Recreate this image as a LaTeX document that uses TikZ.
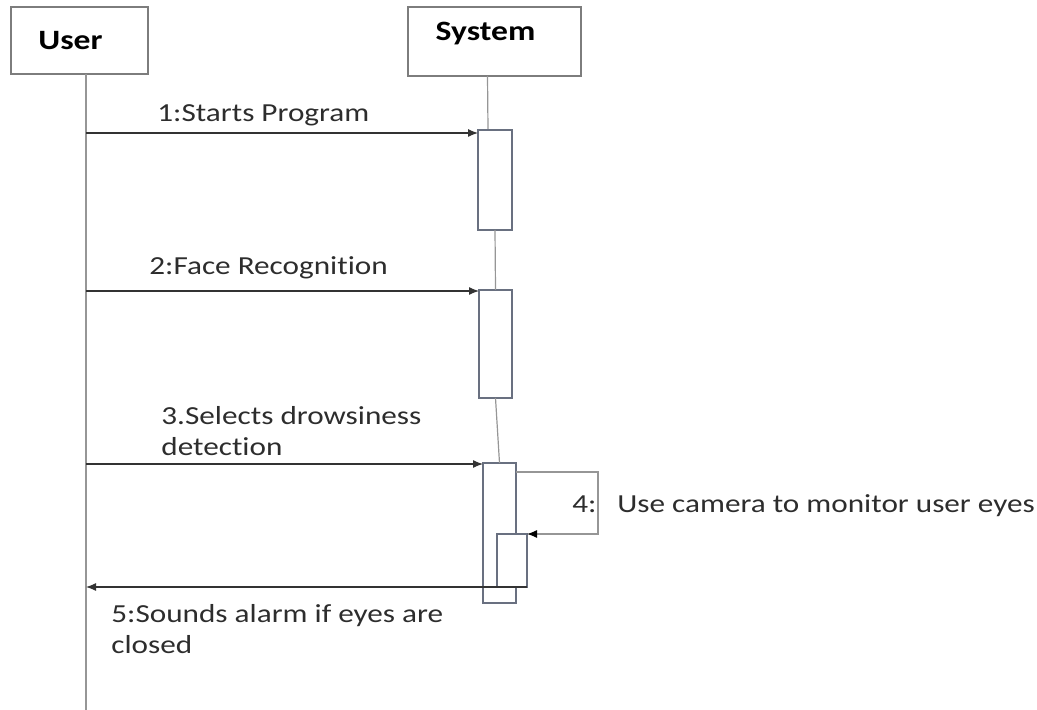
\documentclass[tikz,border=0pt]{standalone}
\usepackage{fontspec}
\setmainfont{Carlito}[FakeStretch=1.2, Ligatures={NoCommon}]
\usepackage{tikz}
\usetikzlibrary{arrows.meta,positioning}
\definecolor{linegray}{RGB}{150,150,150}
\definecolor{boxgray}{RGB}{125,125,125}
\definecolor{actgray}{RGB}{105,112,128}
\definecolor{txtgray}{RGB}{45,45,45}
\tikzset{
  objbox/.style={ draw=boxgray, line width=0.7pt, inner sep=0pt, outer sep=0pt }
}
\tikzset{
  objtitle/.style={ font=\fontsize{14}{17}\selectfont\bfseries, text=black, inner sep=0pt }
}
\tikzset{
  actbox/.style={ draw=actgray, fill=white, line width=0.7pt, inner sep=0pt, outer sep=0pt, anchor=north west }
}
\tikzset{
  life/.style={ draw=linegray, line width=0.6pt }
}
\tikzset{
  msg/.style={ draw=black!80, line width=0.6pt, -{Latex[length=5pt, width=4pt]} }
}
\tikzset{
  msglbl/.style={ font=\fontsize{13}{15.5}\selectfont, text=txtgray, inner sep=0pt, anchor=base west, align=left }
}

\begin{document}
\begin{tikzpicture}[x=0.5pt, y=-0.5pt]
        \useasboundingbox (0,0) rectangle (1037,710);
        % objects
        \node[objbox, minimum width=68.5pt, minimum height=33.5pt] (user) at (79.5, 40.5) {};
        \node[objtitle] (usertitle) at (70.5, 41) {User};
        \node[objbox, minimum width=86.5pt, minimum height=34.5pt] (sys) at (494.5, 41.5) {};
        \node[objtitle] (systitle) at (485.5, 34) {System};
        % points on the user lifeline
        \coordinate (u1) at (86, 133);
        \coordinate (u2) at (86, 291);
        \coordinate (u3) at (86, 464);
        \coordinate (u5) at (86, 587);
        \coordinate (uend) at (86, 710);
        \coordinate (c4) at (598, 472);
        % lifelines
        \draw[life] (u1 |- user.south) -- (uend);
        \draw[life] ([xshift=-3.5pt]sys.south) -- (488, 130);
        % activations
        \node[actbox, minimum width=17pt, minimum height=50pt] (act1) at (478, 130) {};
        \node[actbox, minimum width=16.5pt, minimum height=54pt] (act2) at (479, 290) {};
        \node[actbox, minimum width=16.5pt, minimum height=70pt] (act3) at (483, 463) {};
        \draw[life] (act1.south) -- (act2.north);
        \draw[life] (act2.south) -- (act3.north);
        \node[actbox, minimum width=15pt, minimum height=26.5pt] (act4) at (497, 534) {};
        % messages
        \draw[msg] (u1) -- (u1 -| act1.west);
        \node[msglbl] (lbl1) at (157, 122) {1:Starts Program};
        \draw[msg] (u2) -- (u2 -| act2.west);
        \node[msglbl] (lbl2) at (149, 275) {2:Face Recognition};
        \draw[msg] (u3) -- (u3 -| act3.west);
        \node[msglbl] (lbl3) at (161, 455) {3.Selects drowsiness\\detection};
        \draw[life, -{Latex[length=5pt, width=4pt, black]}] (act3.east |- c4) -- (c4) |- (act4.north east);
        \node[msglbl] (lbl4n) at (572, 512) {4:};
        \node[msglbl] (lbl4) at (617, 512) {Use camera to monitor user eyes};
        \draw[msg] (act4.south east) -- (u5);
        \node[msglbl] (lbl5) at (111, 653) {5:Sounds alarm if eyes are\\closed};
      \end{tikzpicture}
\end{document}
